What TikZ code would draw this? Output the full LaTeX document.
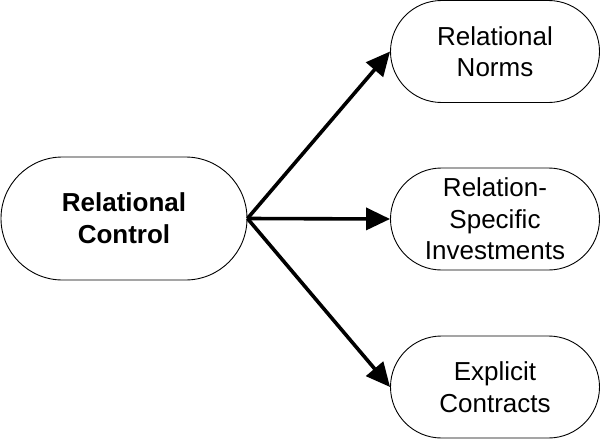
\documentclass[tikz,border=0pt]{standalone}
\usepackage{fontspec}
\setmainfont{Liberation Sans}
\usetikzlibrary{shapes.misc,arrows.meta}
\begin{document}
\begin{tikzpicture}[x=1pt,y=-1pt,
  pill/.style={rounded rectangle, draw=black, line width=0.9pt, fill=white,
    inner sep=0pt, align=center, font=\fontsize{26}{31.5}\selectfont},
  conn/.style={line width=3.6pt, -{Triangle[length=24pt,width=22pt]}}]
\useasboundingbox (0,0) rectangle (600,439);
\node[pill, minimum width=246pt, minimum height=123pt, font=\fontsize{26}{32}\selectfont\bfseries] (rc) at (124,218.5) {Relational\\Control};
\node[pill, minimum width=209pt, minimum height=102pt] (rn) at (495,51.5) {Relational\\Norms};
\node[pill, minimum width=209pt, minimum height=102pt] (rs) at (495,219) {Relation-\\Specific\\Investments};
\node[pill, minimum width=209pt, minimum height=102pt] (ec) at (495,387) {Explicit\\Contracts};
\draw[conn] (rc.east) -- (rn.west);
\draw[conn] (rc.east) -- (rs.west);
\draw[conn] (rc.east) -- (ec.west);
\end{tikzpicture}
\end{document}
